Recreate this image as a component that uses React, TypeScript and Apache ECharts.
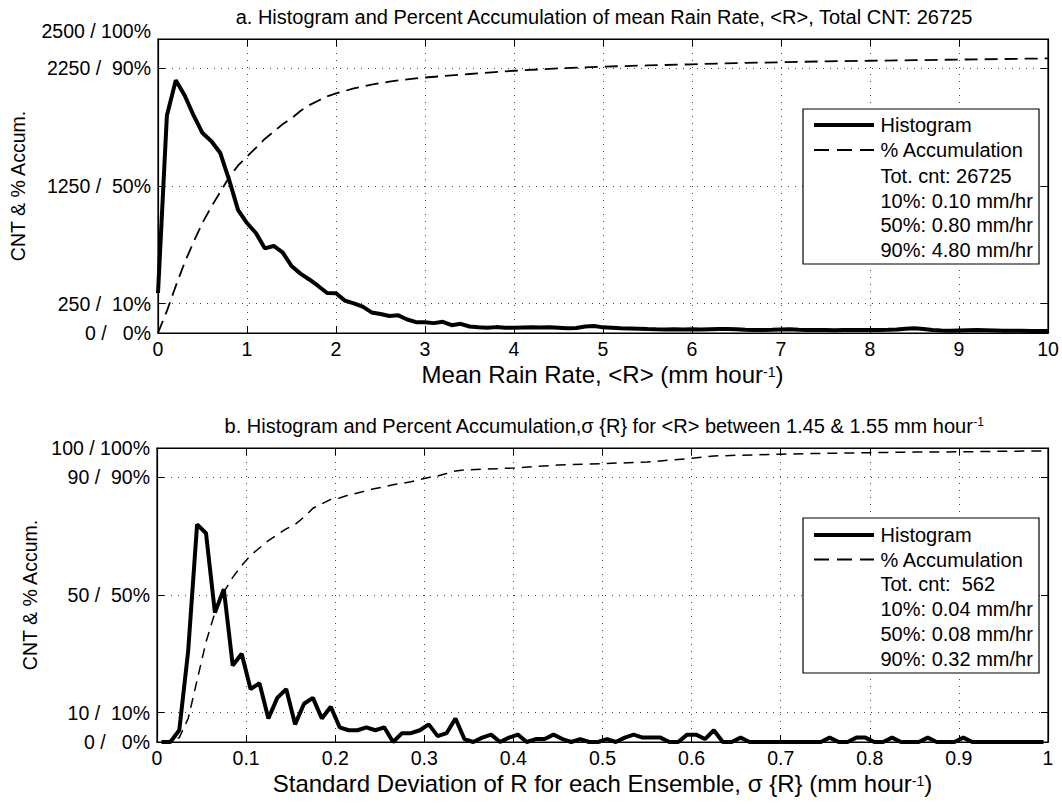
import React, { useEffect, useRef } from 'react';
import * as echarts from 'echarts';

const FONT = '"Liberation Sans", Arial, Helvetica, sans-serif';

// ---------- Panel a: mean rain rate ----------
const topBins = Array.from({ length: 101 }, (_, i) => i / 10);
const topHistCount = [
  340, 1850, 2150, 2020, 1850, 1700, 1630, 1530, 1300, 1045,
  935, 850, 720, 740, 685, 570, 505, 455, 400, 340,
  338, 275, 252, 224, 175, 162, 145, 150, 115, 92,
  92, 84, 95, 66, 78, 55, 48, 44, 50, 45,
  44, 46, 48, 47, 48, 44, 40, 42, 55, 60,
  48, 44, 40, 38, 36, 33, 31, 30, 31, 30,
  31, 30, 32, 33, 34, 31, 28, 26, 25, 27,
  30, 31, 28, 26, 25, 25, 24, 25, 26, 25,
  25, 25, 27, 30, 36, 40, 34, 26, 22, 20,
  22, 24, 25, 24, 22, 20, 20, 19, 18, 18,
  17,
];
const topAccum: [number, number][] = [
  [0, 0], [0.1, 7.5], [0.2, 16], [0.3, 24], [0.4, 31], [0.5, 37.5], [0.6, 43], [0.7, 48],
  [0.8, 53], [0.9, 57], [1.0, 60], [1.1, 63], [1.2, 66], [1.3, 68.5], [1.4, 71], [1.5, 73],
  [1.6, 75.5], [1.7, 77.5], [1.8, 79], [1.9, 80.5], [2.0, 81.5], [2.2, 83.2], [2.4, 84.5],
  [2.6, 85.5], [2.8, 86.3], [3.0, 86.9], [3.5, 88.1], [4.0, 89.2], [4.5, 90], [5.0, 90.6],
  [5.5, 91.0], [6.0, 91.4], [6.5, 91.8], [7.0, 92.1], [7.5, 92.4], [8.0, 92.6], [8.5, 92.8],
  [9.0, 93.0], [9.5, 93.2], [10, 93.4],
];
const topYMax = 2500;
const topYTicks = [0, 250, 1250, 2250, 2500];
const topXMax = 10;
const topXStep = 1;
const topTitle = 'a. Histogram and Percent Accumulation of mean Rain Rate, <R>, Total CNT: 26725';
const topXName = 'Mean Rain Rate, <R> (mm hour{s|-1})';
const topLegendInfo = ['Tot. cnt: 26725', '10%: 0.10 mm/hr', '50%: 0.80 mm/hr', '90%: 4.80 mm/hr'];

// ---------- Panel b: sigma{R} ----------
const botBins = Array.from({ length: 100 }, (_, i) => (i * 10 + 5) / 1000);
const botHistCount = [
  0, 0, 4, 31, 74, 71, 44, 52, 26, 30,
  18, 20, 8, 15, 18, 6, 13, 15, 8, 12,
  5, 4, 4, 5, 4, 5, 0, 3, 3, 4,
  6, 2, 3, 8, 1, 0, 1.5, 2.5, 0, 1.5,
  2.5, 0, 1, 1, 2.5, 1, 0, 1, 0, 0,
  1, 0, 1.5, 2.5, 1.5, 1.5, 1.5, 0, 0, 2.5,
  2.5, 1, 4, 0, 0, 1.5, 0, 0, 0, 0,
  0, 0, 0, 0, 0, 1.5, 0, 0, 1.5, 1.5,
  0, 0, 1.5, 0, 0, 0, 1.5, 0, 0, 0,
  1.5, 0, 0, 0, 0, 0, 0, 0, 0, 0,
];
const botAccum: [number, number][] = [
  [0.005, 0], [0.015, 0], [0.025, 1.5], [0.035, 8], [0.045, 21], [0.055, 34], [0.065, 44],
  [0.075, 51], [0.085, 56], [0.095, 60], [0.105, 63.5], [0.115, 66], [0.125, 68.5],
  [0.135, 70.5], [0.145, 72.5], [0.155, 74], [0.165, 76.5], [0.175, 79.5], [0.185, 81],
  [0.195, 82.5], [0.205, 83], [0.215, 84], [0.225, 84.7], [0.235, 85.5], [0.245, 86.2],
  [0.255, 86.8], [0.265, 87.5], [0.275, 88], [0.285, 88.5], [0.295, 89.3], [0.305, 90],
  [0.315, 90.5], [0.325, 91.3], [0.335, 92.2], [0.345, 92.5], [0.4, 93.2], [0.45, 94.2],
  [0.5, 94.7], [0.55, 95.2], [0.6, 96.5], [0.625, 97.3], [0.65, 97.5], [0.7, 97.9],
  [0.75, 98.2], [0.8, 98.4], [0.85, 98.6], [0.9, 98.7], [0.95, 98.9], [1.0, 99.0],
];
const botYMax = 100;
const botYTicks = [0, 10, 50, 90, 100];
const botXMax = 1;
const botXStep = 0.1;
const botTitle = 'b. Histogram and Percent Accumulation,σ {R} for <R> between 1.45 & 1.55 mm hour{s|-1}';
const botXName = 'Standard Deviation of R for each Ensemble, σ {R} (mm hour{s|-1})';
const botLegendInfo = ['Tot. cnt:  562', '10%: 0.04 mm/hr', '50%: 0.08 mm/hr', '90%: 0.32 mm/hr'];

const yLabelName = 'CNT & % Accum.';
const legendNames = ['Histogram', '% Accumulation'];

const pad3 = (n: number) => String(n).padStart(3, '\u00a0');

const TICK_FS = 19.5;
const YNAME_FS = 19.5;
const XNAME_FS = 24;
const TITLE_FS = 20;
const LEG_FS = 20;
const supTitle = { s: { fontSize: 12, verticalAlign: 'top', fontFamily: FONT, color: '#000', lineHeight: 16 } };
const supName = { s: { fontSize: 14, verticalAlign: 'top', fontFamily: FONT, color: '#000', lineHeight: 18 } };

function gridAxes(gi: number, xMax: number, xStep: number, yMax: number, yTicks: number[], pctOf: (v: number) => number, yNameGap: number, liftTop: boolean) {
  const tick = { show: true, inside: true, length: 7, lineStyle: { color: '#000', width: 1 } };
  const line = { show: true, onZero: false, lineStyle: { color: '#000', width: 1.2 } };
  const split = { show: true, lineStyle: { color: '#444', width: 1, type: [1, 6] } };
  const xs = [
    {
      type: 'value', gridIndex: gi, position: 'bottom', min: 0, max: xMax, interval: xStep,
      axisLine: line, axisTick: tick, splitLine: split,
      axisLabel: { show: true, margin: 6, color: '#000', fontSize: TICK_FS, fontFamily: FONT },
    },
    {
      type: 'value', gridIndex: gi, position: 'top', min: 0, max: xMax, interval: xStep,
      axisLine: line, axisTick: tick, splitLine: { show: false }, axisLabel: { show: false },
    },
  ];
  const ys = [
    {
      type: 'value', gridIndex: gi, position: 'left', min: 0, max: yMax,
      axisLine: line,
      axisTick: { ...tick, customValues: yTicks },
      splitLine: split,
      axisLabel: {
        show: true, margin: 7, color: '#000', fontSize: TICK_FS, fontFamily: FONT,
        customValues: yTicks,
        formatter: (v: number) => {
          const t = `${v} / ${pad3(pctOf(v))}%`;
          return liftTop && v === yMax ? `{u|${t}}` : t;
        },
        rich: { u: { fontSize: TICK_FS, fontFamily: FONT, color: '#000', padding: [0, 0, 16, 0] } },
      },
      name: yLabelName, nameLocation: 'middle', nameRotate: 90, nameGap: yNameGap,
      nameTextStyle: { color: '#000', fontSize: YNAME_FS, fontFamily: FONT },
    },
    {
      type: 'value', gridIndex: gi, position: 'right', min: 0, max: yMax,
      axisLine: line,
      axisTick: { ...tick, customValues: yTicks },
      splitLine: { show: false }, axisLabel: { show: false },
    },
  ];
  return { xs, ys };
}

function legendGraphic(x: number, y: number, w: number, h: number, lineX1: number, lineX2: number, textX: number, rows: number[], info: string[]) {
  const els: any[] = [
    { type: 'rect', shape: { x, y, width: w, height: h }, style: { fill: '#fff', stroke: '#000', lineWidth: 1.2 }, z: 100 },
    { type: 'line', shape: { x1: lineX1, y1: rows[0], x2: lineX2, y2: rows[0] }, style: { stroke: '#000', lineWidth: 4 }, z: 101 },
    { type: 'line', shape: { x1: lineX1, y1: rows[1], x2: lineX2, y2: rows[1] }, style: { stroke: '#000', lineWidth: 1.8, lineDash: [15, 8] }, z: 101 },
  ];
  const texts = [...legendNames, ...info];
  texts.forEach((t, i) => {
    els.push({
      type: 'text', x: textX, y: rows[i], z: 101,
      style: { text: t, fill: '#000', font: `${LEG_FS}px ${FONT}`, textAlign: 'left', textVerticalAlign: 'middle' },
    });
  });
  return els;
}

function textEl(text: string, x: number, y: number, fs: number, rich: any, lineHeight: number) {
  return {
    type: 'text', x, y, z: 50,
    style: { text, fill: '#000', font: `${fs}px ${FONT}`, textAlign: 'center', textVerticalAlign: 'middle', rich, lineHeight },
  };
}

export default function App() {
  const ref = useRef<HTMLDivElement>(null);
  useEffect(() => {
    if (!ref.current) return;
    const chart = echarts.init(ref.current, undefined, { renderer: 'svg' });
    const a = gridAxes(0, topXMax, topXStep, topYMax, topYTicks, (v) => Math.round((v / topYMax) * 100), 130, true);
    const b = gridAxes(1, botXMax, botXStep, botYMax, botYTicks, (v) => Math.round((v / botYMax) * 100), 116, false);
    const option: any = {
      animation: false,
      backgroundColor: '#fff',
      grid: [
        { left: 157, right: 14, top: 39, height: 294, show: true, borderColor: '#000', borderWidth: 1.2, backgroundColor: 'transparent' },
        { left: 157, right: 14, top: 448, height: 294, show: true, borderColor: '#000', borderWidth: 1.2, backgroundColor: 'transparent' },
      ],
      xAxis: [...a.xs, ...b.xs],
      yAxis: [...a.ys, ...b.ys],
      series: [
        {
          name: legendNames[0], type: 'line', xAxisIndex: 0, yAxisIndex: 0, symbol: 'none', z: 5,
          data: topBins.map((x, i) => [x, topHistCount[i]]),
          lineStyle: { color: '#000', width: 4 },
        },
        {
          name: legendNames[1], type: 'line', xAxisIndex: 0, yAxisIndex: 0, symbol: 'none', z: 4,
          data: topAccum.map(([x, p]) => [x, (p / 100) * topYMax]),
          lineStyle: { color: '#000', width: 1.8, type: [13, 7] },
        },
        {
          name: legendNames[0], type: 'line', xAxisIndex: 2, yAxisIndex: 2, symbol: 'none', z: 5,
          data: botBins.map((x, i) => [x, botHistCount[i]]),
          lineStyle: { color: '#000', width: 4 },
        },
        {
          name: legendNames[1], type: 'line', xAxisIndex: 2, yAxisIndex: 2, symbol: 'none', z: 4,
          data: botAccum.map(([x, p]) => [x, (p / 100) * botYMax]),
          lineStyle: { color: '#000', width: 1.5, type: [10, 7] },
        },
      ],
      graphic: [
        textEl(topTitle, 604, 16.5, TITLE_FS, supTitle, 20),
        textEl(botTitle, 604, 425.5, TITLE_FS, supTitle, 20),
        textEl(topXName, 602.5, 374, XNAME_FS, supName, 18),
        textEl(botXName, 602.5, 783, XNAME_FS, supName, 18),
        ...legendGraphic(803, 109, 236, 155, 814, 874, 880.5, [125, 150, 175.5, 200.5, 225, 249.5], topLegendInfo),
        ...legendGraphic(803, 518, 236, 155, 814, 874, 880.5, [535, 559.5, 584, 609, 633.5, 658.5], botLegendInfo),
      ],
    };
    chart.setOption(option);
    return () => chart.dispose();
  }, []);
  return <div ref={ref} style={{ position: 'absolute', left: 0, top: 0, width: 1062, height: 804, background: '#fff' }} />;
}
